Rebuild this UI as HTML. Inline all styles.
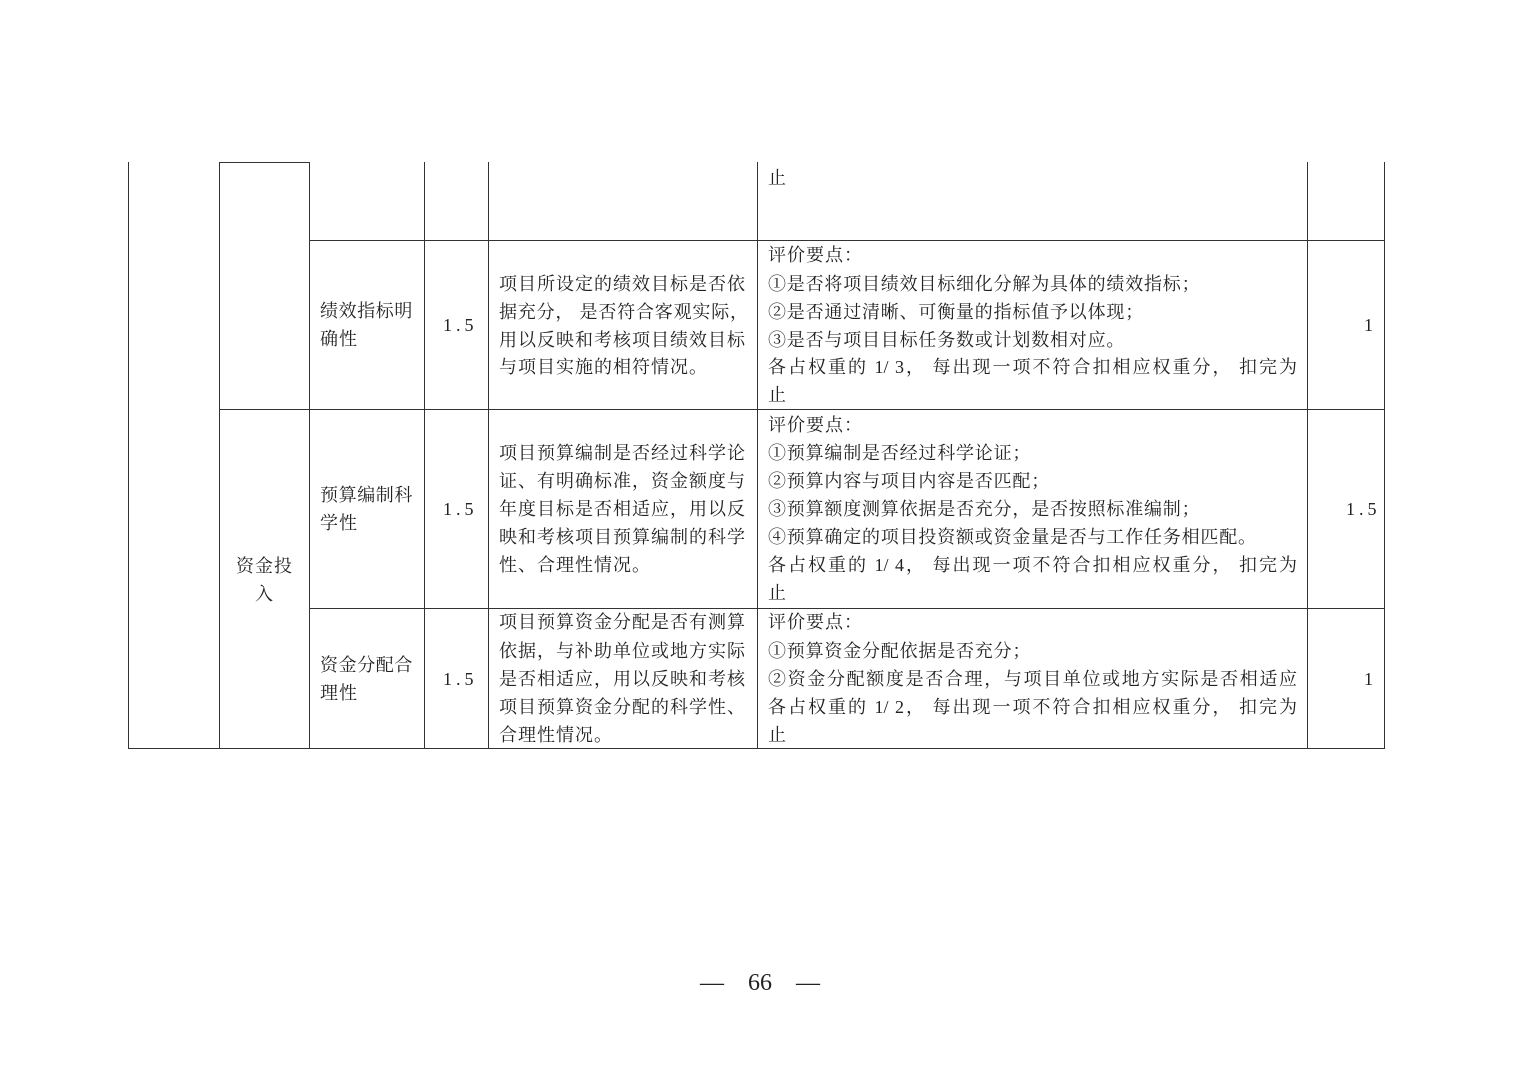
<!DOCTYPE html>
<html><head><meta charset="utf-8"><style>
body{margin:0;width:1520px;height:1074px;background:#fff;position:relative;overflow:hidden;font-family:"Liberation Serif","Noto Serif CJK SC",serif;color:#222}
.h{position:absolute;height:1px;background:#333}
.v{position:absolute;width:1px;background:#333}
.t{position:absolute;font-size:18px;line-height:20px;white-space:pre;letter-spacing:1px}
.e{letter-spacing:0.8px}
.j{text-align:justify;text-align-last:justify;white-space:normal;letter-spacing:0}
.n{letter-spacing:4px}
</style></head><body>
<div class="h" style="left:219px;top:162px;width:91px"></div>
<div class="h" style="left:309px;top:240px;width:1076px"></div>
<div class="h" style="left:219px;top:409px;width:1166px"></div>
<div class="h" style="left:309px;top:608px;width:1076px"></div>
<div class="h" style="left:128px;top:748px;width:1257px"></div>
<div class="v" style="left:128px;top:162px;height:587px"></div>
<div class="v" style="left:219px;top:162px;height:587px"></div>
<div class="v" style="left:309px;top:162px;height:587px"></div>
<div class="v" style="left:424px;top:162px;height:587px"></div>
<div class="v" style="left:488px;top:162px;height:587px"></div>
<div class="v" style="left:757px;top:162px;height:587px"></div>
<div class="v" style="left:1307px;top:162px;height:587px"></div>
<div class="v" style="left:1384px;top:162px;height:587px"></div>

<div class="t" style="left:768px;top:168px">止</div>

<div class="t" style="left:320px;top:301px;letter-spacing:0.6px">绩效指标明</div>
<div class="t" style="left:320px;top:329px">确性</div>
<div class="t n" style="left:443px;top:315px">1.5</div>
<div class="t" style="left:499px;top:274px">项目所设定的绩效目标是否依</div>
<div class="t j" style="left:499px;top:302px;width:249px">据充分， 是否符合客观实际，</div>
<div class="t" style="left:499px;top:330px">用以反映和考核项目绩效目标</div>
<div class="t" style="left:499px;top:357px">与项目实施的相符情况。</div>
<div class="t" style="left:768px;top:245px">评价要点：</div>
<div class="t e" style="left:768px;top:274px">①是否将项目绩效目标细化分解为具体的绩效指标；</div>
<div class="t e" style="left:768px;top:302px">②是否通过清晰、可衡量的指标值予以体现；</div>
<div class="t e" style="left:768px;top:330px">③是否与项目目标任务数或计划数相对应。</div>
<div class="t j" style="left:768px;top:357px;width:529px">各占权重的 1/ 3， 每出现一项不符合扣相应权重分， 扣完为</div>
<div class="t" style="left:768px;top:385px">止</div>
<div class="t" style="left:1364px;top:315px">1</div>

<div class="t" style="left:236px;top:556px">资金投</div>
<div class="t" style="left:255px;top:584px">入</div>
<div class="t" style="left:320px;top:485px;letter-spacing:0.6px">预算编制科</div>
<div class="t" style="left:320px;top:513px">学性</div>
<div class="t n" style="left:443px;top:499px">1.5</div>
<div class="t" style="left:499px;top:443px">项目预算编制是否经过科学论</div>
<div class="t" style="left:499px;top:471px">证、有明确标准，资金额度与</div>
<div class="t" style="left:499px;top:499px">年度目标是否相适应，用以反</div>
<div class="t" style="left:499px;top:527px">映和考核项目预算编制的科学</div>
<div class="t" style="left:499px;top:555px">性、合理性情况。</div>
<div class="t" style="left:768px;top:415px">评价要点：</div>
<div class="t e" style="left:768px;top:443px">①预算编制是否经过科学论证；</div>
<div class="t e" style="left:768px;top:471px">②预算内容与项目内容是否匹配；</div>
<div class="t e" style="left:768px;top:499px">③预算额度测算依据是否充分，是否按照标准编制；</div>
<div class="t e" style="left:768px;top:527px">④预算确定的项目投资额或资金量是否与工作任务相匹配。</div>
<div class="t j" style="left:768px;top:555px;width:529px">各占权重的 1/ 4， 每出现一项不符合扣相应权重分， 扣完为</div>
<div class="t" style="left:768px;top:583px">止</div>
<div class="t n" style="left:1346px;top:499px">1.5</div>

<div class="t" style="left:320px;top:655px;letter-spacing:0.6px">资金分配合</div>
<div class="t" style="left:320px;top:683px">理性</div>
<div class="t n" style="left:443px;top:669px">1.5</div>
<div class="t" style="left:499px;top:612px">项目预算资金分配是否有测算</div>
<div class="t" style="left:499px;top:641px">依据，与补助单位或地方实际</div>
<div class="t" style="left:499px;top:669px">是否相适应，用以反映和考核</div>
<div class="t" style="left:499px;top:697px">项目预算资金分配的科学性、</div>
<div class="t" style="left:499px;top:725px">合理性情况。</div>
<div class="t" style="left:768px;top:612px">评价要点：</div>
<div class="t e" style="left:768px;top:641px">①预算资金分配依据是否充分；</div>
<div class="t j" style="left:768px;top:669px;width:529px">②资金分配额度是否合理，与项目单位或地方实际是否相适应</div>
<div class="t j" style="left:768px;top:697px;width:529px">各占权重的 1/ 2， 每出现一项不符合扣相应权重分， 扣完为</div>
<div class="t" style="left:768px;top:725px">止</div>
<div class="t" style="left:1364px;top:669px">1</div>

<div style="position:absolute;left:660px;width:200px;top:968px;text-align:center;font-size:24px;line-height:30px;font-family:'Liberation Serif',serif;white-space:pre">—&#8195;66&#8195;—</div>
</body></html>
